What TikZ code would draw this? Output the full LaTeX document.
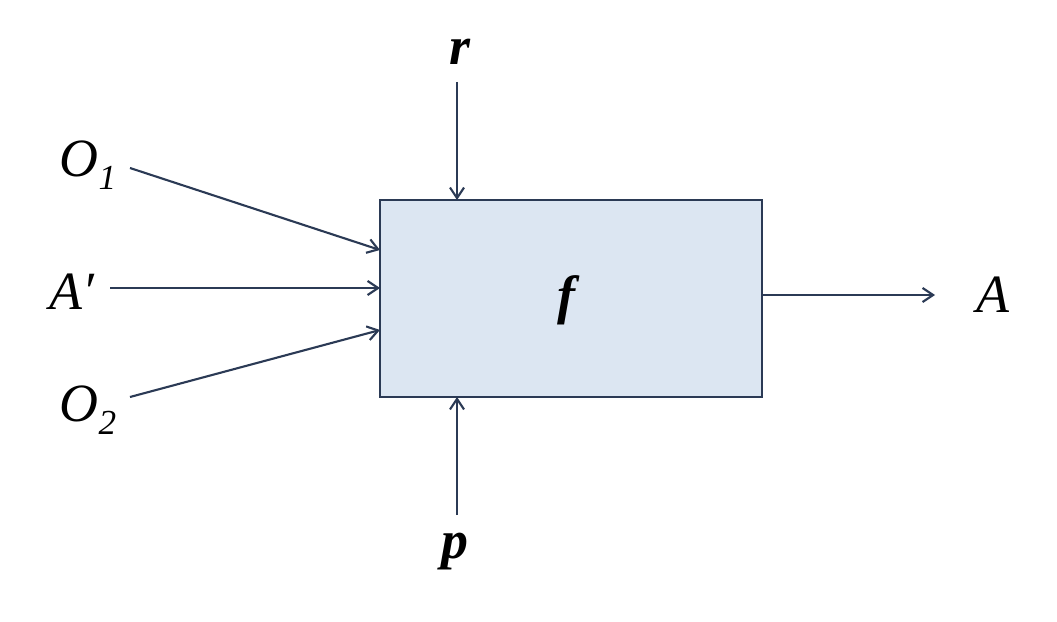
\documentclass[tikz,border=0pt]{standalone}
\usepackage{fontspec}
\newfontfamily\tm{Liberation Serif}
\usetikzlibrary{arrows.meta}
\definecolor{ln}{HTML}{2B3A55}
\definecolor{bx}{HTML}{DCE6F2}
\begin{document}
\begin{tikzpicture}[x=0.03cm,y=-0.03cm,
  lab/.style={font=\tm\fontsize{46}{50}\selectfont\itshape, text=black, inner sep=0pt},
  arr/.style={draw=ln, line width=1.8pt, -{Straight Barb[length=9pt,width=12pt]}}]
\useasboundingbox (0,0) rectangle (1057,622);
\node[draw=ln, fill=bx, line width=1.8pt, minimum width=382*0.03cm, minimum height=197*0.03cm, inner sep=0pt] (f) at (571,298.5) {};
\node[lab] at (566,300) {\bfseries f};
\node[lab] (o1) at (88,165) {O\raisebox{-0.25em}{\fontsize{30}{32}\selectfont 1}};
\node[lab] (ap) at (72,292) {A′};
\node[lab] (o2) at (88,410) {O\raisebox{-0.25em}{\fontsize{30}{32}\selectfont 2}};
\node[lab] (r) at (460,52) {\bfseries r};
\node[lab] (p) at (455,552) {\bfseries p};
\node[lab] (a) at (993,295) {A};
\coordinate (o1s) at (130,168); \coordinate (o1e) at (380,250);
\coordinate (aps) at (110,288); \coordinate (ape) at (380,288);
\coordinate (o2s) at (130,397); \coordinate (o2e) at (380,330);
\coordinate (rs) at (457,82); \coordinate (re) at (457,200);
\coordinate (ps) at (457,515); \coordinate (pe) at (457,397);
\coordinate (os) at (762,295); \coordinate (oe) at (935,295);
\draw[arr] (o1s) -- (o1e);
\draw[arr] (aps) -- (ape);
\draw[arr] (o2s) -- (o2e);
\draw[arr] (rs) -- (re);
\draw[arr] (ps) -- (pe);
\draw[arr] (os) -- (oe);
\end{tikzpicture}
\end{document}
